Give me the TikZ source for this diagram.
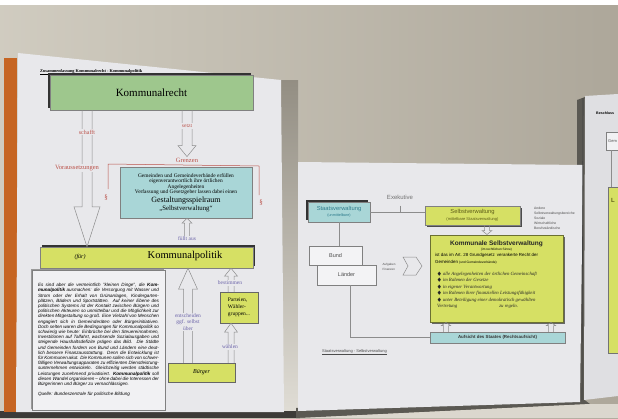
\documentclass[tikz,border=0pt]{standalone}
\usepackage{fontspec}
\usepackage{amssymb}
\setmainfont{Liberation Serif}
\setsansfont{Liberation Sans}
\usetikzlibrary{positioning,calc,shadows}

\definecolor{wall}{HTML}{CBC6B9}
\definecolor{walldark}{HTML}{ADA79A}
\definecolor{paper}{HTML}{E8E8EB}
\definecolor{rechtgreen}{HTML}{9EC78D}
\definecolor{tealbox}{HTML}{A9D6D7}
\definecolor{limebox}{HTML}{D6E064}
\definecolor{redtext}{HTML}{BA5149}
\definecolor{violettext}{HTML}{6A62A8}
\definecolor{orangestrip}{HTML}{C66522}
\definecolor{tealtext}{HTML}{2E7C8C}
\definecolor{olivetext}{HTML}{5E5E18}

% hollow arrow: tail, tip, half shaft, half head, head length
\newcommand{\hollowup}[5]{%
  \draw[hollow] let \p1=(#1), \p2=(#2) in
    (\x1-#3,\y1) -- (\x1-#3,\y2-#5) -- (\x1-#4,\y2-#5) -- (\x1,\y2)
    -- (\x1+#4,\y2-#5) -- (\x1+#3,\y2-#5) -- (\x1+#3,\y1);}
\newcommand{\hollowdown}[5]{%
  \draw[hollow] let \p1=(#1), \p2=(#2) in
    (\x1-#3,\y1) -- (\x1-#3,\y2+#5) -- (\x1-#4,\y2+#5) -- (\x1,\y2)
    -- (\x1+#4,\y2+#5) -- (\x1+#3,\y2+#5) -- (\x1+#3,\y1);}

\tikzset{
  box/.style={draw=black!50, line width=0.4pt, inner sep=0pt, align=center},
  darkshadow/.style={drop shadow={shadow xshift=-2pt, shadow yshift=2pt, fill=black!80, opacity=1}},
  redlabel/.style={fill=paper, inner sep=1pt, text=redtext, font=\fontsize{6.5}{7.5}\selectfont},
  violetlabel/.style={fill=paper, inner sep=1pt, text=violettext, align=center, font=\fontsize{5.5}{6.3}\selectfont},
  hollow/.style={draw=black!45, line width=0.5pt},
  joinline/.style={draw=black!45, line width=0.6pt},
  tinysans/.style={font=\sffamily\fontsize{3.4}{5}\selectfont, align=left, inner sep=0pt, text=black!70},
}

\begin{document}
\begin{tikzpicture}[x=1pt, y=-1pt]
\useasboundingbox (0,0) rectangle (618,418);
\clip (0,0) rectangle (618,418);

% wall
\shade[left color=wall!90!white, right color=walldark] (0,0) rectangle (618,418);
\fill[white] (0,0) rectangle (618,5);
\shade[top color=walldark!85!black, bottom color=wall!60!white] (281,80) rectangle (298,412);
\fill[black!70!wall] (0,411) rectangle (298,418);
\fill[black!55!wall] (296,408) -- (582,398) -- (590,404) -- (300,418) -- (296,418) -- cycle;
\fill[wall!70!white] (300,418) -- (590,404) -- (618,404) -- (618,418) -- cycle;

% left poster
\fill[orangestrip] (4,58) rectangle (17,412);
\fill[paper] (18,53) -- (281,80) -- (284,412) -- (16,412) -- cycle;

\node[anchor=west, inner sep=0pt, font=\fontsize{4.3}{5}\selectfont\bfseries] (titel) at (40,72) {\underline{Zusammenfassung Kommunalrecht - Kommunalpolitik}};

\node[box, darkshadow, fill=rechtgreen, minimum width=203pt, minimum height=35pt, font=\fontsize{11}{13}\selectfont] (recht) at (151.5,92.5) {Kommunalrecht};

\node[box, fill=tealbox, minimum width=132pt, minimum height=51pt, font=\fontsize{5.4}{5.6}\selectfont] (gestaltung) at (186,192.5) {Gemeinden und Gemeindeverbände erfüllen\\eigenverantwortlich ihre örtlichen\\Angelegenheiten\\Verfassung und Gesetzgeber lassen dabei einen\\[1pt]{\fontsize{8}{9}\selectfont Gestaltungsspielraum}\\{\fontsize{6.8}{7.5}\selectfont „Selbstverwaltung“}};

\node[box, fill=limebox, minimum width=213pt, minimum height=21pt, drop shadow={shadow xshift=2pt, shadow yshift=2pt, fill=black!80, opacity=1}] (politik) at (146.5,257.5) {};
\node[font=\fontsize{6}{7}\selectfont\itshape] (fuer) at (80,257) {(für)};
\node[font=\fontsize{10.5}{12}\selectfont] (politiktext) at (185,256) {Kommunalpolitik};

\node[draw=black!50, line width=1pt, fill=paper!60!white, minimum width=133pt, minimum height=140pt, text width=121pt, align=justify, inner sep=5pt, font=\sffamily\itshape\fontsize{4.6}{5.2}\selectfont, drop shadow={shadow xshift=-1.5pt, shadow yshift=1.5pt, fill=black!40, opacity=1}] (zitat) at (98.5,340) {\emergencystretch=8pt Es sind aber die vermeintlich "kleinen Dinge", die \textbf{Kommunalpolitik} ausmachen: die Versorgung mit Wasser und Strom oder der Erhalt von Grünanlagen, Kindergartenplätzen, Bädern und Sportstätten. Auf keiner Ebene des politischen Systems ist der Kontakt zwischen Bürgern und politischen Akteuren so unmittelbar und die Möglichkeit zur direkten Mitgestaltung so groß. Eine Vielzahl von Menschen engagiert sich in Gemeinderäten oder Bürgerinitiativen. Doch selten waren die Bedingungen für Kommunalpolitik so schwierig wie heute: Einbrüche bei den Steuereinnahmen, Investitionen auf Talfahrt, wachsende Sozialausgaben und steigende Haushaltsdefizite prägen das Bild. Die Städte und Gemeinden fordern von Bund und Ländern eine deutlich bessere Finanzausstattung. Denn die Entwicklung ist für Kommunen akut. Die Kommunen sollen sich von schwerfälligen Verwaltungsapparaten zu effizienten Dienstleistungsunternehmen entwickeln. Gleichzeitig werden städtische Leistungen zunehmend privatisiert. \textbf{Kommunalpolitik} soll diesen Wandel organisieren -- ohne dabei die Interessen der Bürgerinnen und Bürger zu vernachlässigen.\par\vspace{5pt}
Quelle: Bundeszentrale für politische Bildung};

\node[box, fill=limebox, draw=black!60, minimum width=67pt, minimum height=19pt, font=\fontsize{6}{7}\selectfont\itshape] (buerger) at (201.5,372.5) {Bürger};
\node[box, fill=limebox, draw=black!60, minimum width=38pt, minimum height=31pt, font=\fontsize{5.5}{7}\selectfont, align=left] (parteien) at (239,307.5) {Parteien,\\Wähler-\\gruppen...};

% red bracket
\draw[redtext, line width=0.5pt] (108,189) -- (108,164) -- (259,166) -- (259,195);
\node[redlabel] (grenzen) at (187,160) {Grenzen};
\node[redlabel, font=\fontsize{7}{8}\selectfont] (paragraf1) at (106,198) {§};
\node[redlabel, font=\fontsize{7}{8}\selectfont] (paragraf2) at (261,203) {§};

% arrows
\coordinate (schafftaxis) at (87,0);
\coordinate (entscheidenaxis) at (188,0);
\coordinate (waehlenaxis) at (231,0);
\hollowdown{recht.south -| schafftaxis}{politik.north -| schafftaxis}{5pt}{13pt}{40pt}
\hollowdown{recht.south -| grenzen}{grenzen.north}{5pt}{9pt}{11pt}
\node[violetlabel] (fuellt) at (187,239) {füllt aus};
\hollowup{fuellt.north}{gestaltung.south -| fuellt}{2.5pt}{5pt}{5pt}
\hollowup{buerger.north -| entscheidenaxis}{politik.south -| entscheidenaxis}{4.5pt}{9.5pt}{21pt}
\hollowup{parteien.north -| waehlenaxis}{politik.south -| waehlenaxis}{3pt}{6.5pt}{8pt}
\hollowup{buerger.north -| waehlenaxis}{parteien.south -| waehlenaxis}{3pt}{6.5pt}{9pt}

\node[redlabel, font=\fontsize{6}{7}\selectfont] (schafft) at (87,132) {schafft};
\node[redlabel] (voraus) at (77,168) {Voraussetzungen};
\node[redlabel, font=\fontsize{5.5}{6.5}\selectfont] (setzt) at (187,126) {setzt};
\node[violetlabel] (entscheiden) at (188,322) {entscheiden\\ggf. selbst\\über};
\node[violetlabel] (bestimmen) at (230,283) {bestimmen};
\node[violetlabel] (waehlen) at (230,347) {wählen};

% middle poster
\fill[black!55!wall] (577,100) -- (585,97) -- (585,400) -- (578,400) -- cycle;
\fill[paper] (298,162) -- (583,165) -- (580,402) -- (298,411) -- cycle;

\node[box, fill=tealbox, darkshadow, minimum width=62pt, minimum height=20pt, text=tealtext, font=\sffamily\fontsize{5.8}{6.2}\selectfont] (staat) at (339,212) {Staatsverwaltung\\{\fontsize{3.8}{4.5}\selectfont(unmittelbare)}};
\node[box, fill=limebox, minimum width=95pt, minimum height=19pt, text=olivetext, font=\sffamily\fontsize{5.8}{6.5}\selectfont, drop shadow={shadow xshift=1.5pt, shadow yshift=-1.5pt, fill=black!70, opacity=1}] (selbst) at (472.5,215.5) {Selbstverwaltung\\{\fontsize{4}{4.5}\selectfont(mittelbare Staatsverwaltung)}};
\node[text=black!55, font=\sffamily\fontsize{6}{7}\selectfont] (exekutive) at (400,197) {Exekutive};
\draw[joinline] (staat.east) -- (staat.east -| selbst.west);
\draw[joinline] ([yshift=-3pt]exekutive.south) -- (exekutive.south |- staat.east);

\node[tinysans, anchor=north west] (andere) at (534,207) {Andere\\Selbstverwaltungsbereiche\\Soziale\\Wirtschaftliche\\Berufsständische};

\node[box, fill=paper!50!white, minimum width=53pt, minimum height=19pt, text=black!70, font=\sffamily\fontsize{5.5}{6}\selectfont] (bund) at (335.5,255.5) {Bund};
\node[box, fill=paper!50!white, minimum width=59pt, minimum height=20pt, text=black!70, font=\sffamily\fontsize{5.5}{6}\selectfont] (laender) at (346.5,275) {Länder};
\draw[joinline] (staat.south) -- (staat.south |- bund.north);

\node[tinysans, font=\sffamily\fontsize{3}{4.5}\selectfont] (aufgaben) at (389,267) {Aufgaben\\[1pt]Finanzen};
\draw[black!45, fill=paper, line width=0.5pt] (403,257) -- (416,257) -- (422,266) -- (416,275) -- (403,275) -- (408,266) -- cycle;

\node[box, fill=limebox, draw=black!50!limebox, line width=1pt, minimum width=133pt, minimum height=87pt, drop shadow={shadow xshift=1.5pt, shadow yshift=-1.5pt, fill=black!60, opacity=1}] (kommunal) at (496.5,278.5) {};
\node[font=\sffamily\bfseries\fontsize{6.5}{7}\selectfont, text=black!85, inner sep=0pt] (ksv) at (496.5,244) {Kommunale Selbstverwaltung};
\node[font=\sffamily\fontsize{3.2}{4}\selectfont, inner sep=0pt] (sinne) at (496.5,250) {(im rechtlichen Sinne)};
\node[anchor=north west, align=left, font=\sffamily\fontsize{4.4}{7}\selectfont, inner sep=0pt] (art) at (435,253) {ist das im Art. 28 Grundgesetz\enspace verankerte Recht der\\Gemeinden {\fontsize{3.3}{4}\selectfont(und Gemeindeverbände)}};
\node[anchor=north west, align=left, font=\itshape\fontsize{4.8}{6.4}\selectfont, text=black!85, inner sep=0pt] (regeln) at (437,272) {$\blacklozenge$ alle Angelegenheiten der örtlichen Gemeinschaft\\$\blacklozenge$ im Rahmen der Gesetze\\$\blacklozenge$ in eigener Verantwortung\\$\blacklozenge$ im Rahmen ihrer finanziellen Leistungsfähigkeit\\$\blacklozenge$ unter Beteiligung einer demokratisch gewählten\\Vertretung\hspace{42pt}zu regeln.};

\node[box, fill=tealbox, minimum width=135pt, minimum height=11pt, text=black!80, font=\sffamily\bfseries\fontsize{4.4}{5}\selectfont] (aufsicht) at (497.5,337.5) {Aufsicht des Staates (Rechtsaufsicht)};
\draw[joinline] ([xshift=4pt]laender.south) -- ([xshift=4pt]laender.south |- aufsicht.west) -- (aufsicht.west);

\coordinate (selbstaxis) at (487,0);
\coordinate (aufsichtaxis1) at (446,0);
\coordinate (aufsichtaxis2) at (551,0);
\hollowdown{selbst.south -| selbstaxis}{kommunal.north -| selbstaxis}{2.5pt}{5pt}{4pt}
\hollowup{aufsicht.north -| aufsichtaxis1}{kommunal.south -| aufsichtaxis1}{2.5pt}{4.5pt}{3pt}
\hollowup{aufsicht.north -| aufsichtaxis2}{kommunal.south -| aufsichtaxis2}{2.5pt}{4.5pt}{3pt}

\node[anchor=west, font=\sffamily\fontsize{4}{5}\selectfont, text=black!70, inner sep=0pt] (unterschrift) at (322,352) {\underline{Staatsverwaltung - Selbstverwaltung}};

% right poster
\fill[paper!96!black] (585,96) -- (618,94) -- (618,396) -- (584,400) -- cycle;
\draw[black!75, line width=0.6pt] (583,98) -- (582,400);
\node[anchor=west, font=\sffamily\bfseries\fontsize{3.6}{4}\selectfont, inner sep=0pt] (beschluss) at (596,113) {Beschluss};
\node[draw=black!50, fill=paper!60!white, anchor=west, minimum height=18pt, text width=22pt, align=left, inner sep=2pt, font=\sffamily\fontsize{4}{5}\selectfont, text=black!70] (gemrat) at (606,141) {Gem};
\node[draw=black!55, fill=limebox, line width=0.8pt, anchor=north west, minimum width=40pt, minimum height=166pt] (landbox) at (608,187) {};
\draw[joinline] ([xshift=5pt]gemrat.south west) -- ([xshift=5pt]gemrat.south west |- landbox.north);
\node[anchor=west, font=\sffamily\bfseries\fontsize{6}{7}\selectfont, text=olivetext, inner sep=0pt] (land) at (611,200) {L};
\end{tikzpicture}
\end{document}
